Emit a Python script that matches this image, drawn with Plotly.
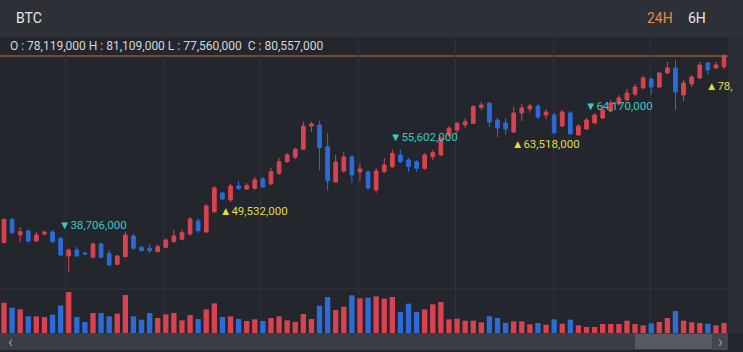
import plotly.graph_objects as go

# ---------------- data (prices in million KRW, 24H candles) ----------------
candle_idx = list(range(90))

open_m = [38.13, 43.45, 39.88, 40.79, 38.51, 40.11, 40.56, 39.13, 35.11, 36.47,
          35.79, 34.81, 37.83, 35.72, 33.22, 34.95, 39.65, 37.08, 36.86, 36.08,
          37.08, 38.36, 38.90, 40.11, 43.06, 40.56, 45.17, 49.42, 47.83, 51.01,
          50.33, 50.49, 52.61, 51.47, 53.90, 56.54, 57.54, 59.36, 64.65, 64.88,
          59.95, 51.92, 54.42, 57.61, 54.20, 54.20, 50.11, 54.26, 55.40, 58.06,
          56.92, 56.54, 55.04, 57.67, 58.06, 62.61, 63.74, 64.88, 65.26, 68.90,
          69.81, 66.01, 65.33, 63.29, 67.61, 68.51, 69.20, 67.15, 67.15, 64.65,
          67.61, 62.61, 63.97, 65.33, 66.47, 68.06, 69.65, 70.56, 71.92, 73.29,
          75.33, 73.51, 76.70, 77.83, 71.70, 74.20, 75.56, 78.97, 77.83, 78.119]

high_m = [43.51, 43.74, 41.70, 41.17, 40.63, 40.86, 41.01, 39.49, 36.86, 37.22,
          36.08, 38.13, 38.13, 36.47, 35.33, 40.63, 40.11, 37.38, 37.83, 37.83,
          39.13, 41.01, 41.01, 43.97, 43.74, 46.92, 51.01, 49.65, 51.47, 52.15,
          51.70, 53.06, 53.06, 55.11, 57.38, 58.51, 59.72, 65.63, 65.63, 65.86,
          63.06, 58.06, 58.74, 58.06, 56.24, 54.65, 55.11, 57.38, 59.36, 59.20,
          57.38, 56.92, 58.45, 59.20, 62.38, 64.65, 65.63, 66.40, 69.42, 70.17,
          70.11, 66.47, 66.47, 68.97, 69.65, 69.65, 69.65, 68.51, 67.61, 68.29,
          68.06, 65.11, 66.47, 67.61, 69.42, 70.56, 71.70, 73.06, 74.20, 76.01,
          75.56, 76.99, 79.20, 79.65, 75.11, 76.24, 79.20, 79.20, 79.20, 81.109]

low_m = [38.06, 40.11, 38.29, 38.13, 38.36, 39.72, 38.13, 35.11, 31.54, 34.88,
         35.45, 34.58, 34.58, 32.83, 33.06, 34.81, 36.47, 36.13, 35.72, 35.90,
         36.86, 38.13, 38.74, 39.65, 40.33, 40.33, 44.88, 47.83, 47.38, 50.11,
         50.11, 50.11, 50.56, 51.24, 53.51, 56.24, 57.15, 59.20, 63.29, 54.65,
         49.95, 51.70, 53.97, 51.70, 52.15, 50.11, 49.42, 53.97, 55.04, 56.17,
         54.26, 54.26, 54.65, 56.92, 57.83, 62.22, 62.83, 64.13, 65.11, 68.29,
         64.42, 62.15, 62.61, 63.06, 65.79, 67.70, 66.24, 66.24, 62.95, 64.42,
         62.72, 62.38, 63.74, 65.22, 66.24, 67.83, 69.42, 70.33, 71.47, 73.06,
         71.70, 73.29, 76.47, 68.29, 70.33, 73.51, 75.33, 76.24, 77.61, 77.56]

close_m = [43.45, 40.40, 40.63, 38.51, 39.88, 40.56, 38.36, 35.33, 36.47, 35.11,
           35.56, 37.83, 34.81, 33.06, 35.11, 39.88, 36.86, 36.31, 36.31, 37.22,
           38.74, 39.65, 40.40, 43.51, 40.86, 46.47, 50.56, 48.06, 51.01, 50.45,
           51.13, 52.38, 50.79, 54.26, 56.54, 58.06, 59.36, 64.65, 65.11, 59.72,
           52.22, 56.47, 57.61, 53.51, 54.88, 50.56, 54.42, 55.79, 58.45, 56.54,
           55.40, 55.04, 58.06, 58.58, 61.86, 64.13, 65.26, 65.63, 69.04, 69.42,
           65.56, 64.20, 63.97, 67.61, 68.74, 69.20, 66.70, 67.83, 63.06, 67.83,
           62.83, 64.65, 66.01, 67.15, 68.29, 69.88, 71.01, 72.15, 73.51, 75.56,
           73.51, 76.70, 77.83, 72.38, 74.42, 75.79, 78.51, 77.38, 78.51, 80.557]

volume = [91, 76, 71, 50, 50, 48, 55, 83, 123, 48,
          33, 60, 60, 50, 58, 114, 50, 40, 60, 45,
          56, 60, 38, 54, 42, 71, 89, 48, 50, 42,
          36, 41, 36, 45, 50, 38, 33, 57, 42, 82,
          108, 69, 79, 113, 104, 106, 110, 103, 108, 63,
          88, 63, 71, 86, 93, 41, 43, 37, 37, 32,
          50, 45, 30, 35, 35, 26, 30, 25, 41, 28,
          40, 23, 18, 18, 27, 27, 27, 37, 27, 23,
          29, 33, 45, 66, 37, 32, 30, 28, 23, 30]

# price markers: (candle index, label, side)
mark_idx = [7, 27, 48, 63, 72, 87]
mark_text = ["▼38,706,000", "▲49,532,000", "▼55,602,000", "▲63,518,000", "▼64,170,000", "▲78,"]
mark_side = ["high", "low", "high", "low", "high", "low"]

symbol = "BTC"
intervals = ["24H", "6H"]

# ---------------- style ----------------
W, H = 743, 352
BG = "#23262d"
HEADER_BG = "#2d3037"
STRIP_BG = "#2a2d34"
GRID = "#30333b"
RED = "#d9434f"
BLUE = "#2d6bd7"
CYAN = "#3cc8c4"
YELLOW = "#e2dc3c"
ORANGE = "#c0773e"
TXT = "#d6d6d6"
FONT = "Roboto"

def py(pix):  # pixel row -> paper fraction
    return 1 - pix / H

plot_right = 728 / W
vol_colors = [RED if c >= o else BLUE for o, c in zip(open_m, close_m)]

fig = go.Figure()
fig.add_trace(go.Candlestick(
    x=candle_idx, open=open_m, high=high_m, low=low_m, close=close_m,
    increasing=dict(line=dict(color=RED, width=1), fillcolor=RED),
    decreasing=dict(line=dict(color=BLUE, width=1), fillcolor=BLUE),
    whiskerwidth=0, xaxis="x", yaxis="y", hoverinfo="skip", showlegend=False,
))
fig.add_trace(go.Bar(
    x=candle_idx, y=volume, marker=dict(color=vol_colors, line=dict(width=0)),
    width=0.66, xaxis="x2", yaxis="y2", hoverinfo="skip", showlegend=False,
))

xr = [-0.494, 89.49]
grid_x = [7.63 + 12.047 * k for k in range(7)]
fig.update_layout(
    width=W, height=H, margin=dict(l=0, r=0, t=0, b=0),
    paper_bgcolor=BG, plot_bgcolor=BG, boxgap=0.35,
    font=dict(family=FONT, color=TXT),
    xaxis=dict(domain=[0, plot_right], range=xr, rangeslider=dict(visible=False),
               showticklabels=False, tickvals=grid_x, showgrid=True, gridcolor=GRID,
               gridwidth=1, zeroline=False, ticks=""),
    yaxis=dict(domain=[py(289), py(37)], range=[27.60, 84.875], showgrid=False,
               showticklabels=False, zeroline=False),
    xaxis2=dict(domain=[0, plot_right], range=xr, anchor="y2", matches="x",
                showticklabels=False, tickvals=grid_x, showgrid=True, gridcolor=GRID,
                zeroline=False, ticks=""),
    yaxis2=dict(domain=[py(333), py(289)], range=[0, 132], showgrid=False,
                showticklabels=False, zeroline=False),
)

shapes = [
    # header band
    dict(type="rect", xref="paper", yref="paper", x0=0, x1=1, y0=py(37), y1=1,
         fillcolor=HEADER_BG, line=dict(width=0), layer="below"),
    # right price strip
    dict(type="rect", xref="paper", yref="paper", x0=plot_right, x1=1, y0=py(333), y1=py(37),
         fillcolor=STRIP_BG, line=dict(width=0), layer="below"),
    # separator between price and volume panes
    dict(type="line", xref="paper", yref="paper", x0=0, x1=plot_right, y0=py(289), y1=py(289),
         line=dict(color=GRID, width=1), layer="below"),
    # current price line
    dict(type="line", xref="paper", yref="y", x0=0, x1=plot_right, y0=close_m[-1], y1=close_m[-1],
         line=dict(color=ORANGE, width=1), layer="below"),
    # scrollbar track
    dict(type="rect", xref="paper", yref="paper", x0=0, x1=plot_right, y0=py(350), y1=py(333),
         fillcolor="#3a3d43", line=dict(width=0), layer="above"),
    dict(type="rect", xref="paper", yref="paper", x0=635 / W, x1=712 / W, y0=py(349), y1=py(334),
         fillcolor="#56595f", line=dict(width=0), layer="above"),
    dict(type="rect", xref="paper", yref="paper", x0=712 / W, x1=plot_right, y0=py(350), y1=py(333),
         fillcolor="#44474d", line=dict(width=0), layer="above"),
]
fig.update_layout(shapes=shapes)

ann = []
# header
ann.append(dict(text=symbol, x=14 / W, y=py(18), xref="paper", yref="paper", xanchor="left",
                yanchor="middle", showarrow=False, font=dict(size=14, color="#e6e6e6", family=FONT)))
ann.append(dict(text=intervals[0], x=645 / W, y=py(18), xref="paper", yref="paper", xanchor="left",
                yanchor="middle", showarrow=False, font=dict(size=14, color="#e58a42", family=FONT)))
ann.append(dict(text=intervals[1], x=686 / W, y=py(18), xref="paper", yref="paper", xanchor="left",
                yanchor="middle", showarrow=False, font=dict(size=14, color="#e6e6e6", family=FONT)))
# OHLC of last candle
def krw(v):
    return f"{round(v * 1e6):,}"
ohlc = (f"O : {krw(open_m[-1])} H : {krw(high_m[-1])} L : {krw(low_m[-1])}  "
        f"C : {krw(close_m[-1])}")
ann.append(dict(text=ohlc, x=8 / W, y=py(46), xref="paper", yref="paper", xanchor="left",
                yanchor="middle", showarrow=False, font=dict(size=12, color=TXT, family=FONT)))
# price markers
for i, t, s in zip(mark_idx, mark_text, mark_side):
    yv = high_m[i] if s == "high" else low_m[i]
    ann.append(dict(text=t, x=i, y=yv, xref="x", yref="y", xanchor="left", yanchor="middle",
                    xshift=-4, yshift=12 if s == "high" else -11, showarrow=False,
                    font=dict(size=11.5, color=CYAN if s == "high" else YELLOW, family=FONT)))
# scrollbar arrows
ann.append(dict(text="‹", x=10 / W, y=py(341), xref="paper", yref="paper", xanchor="center",
                yanchor="middle", showarrow=False, font=dict(size=16, color="#9a9da3")))
ann.append(dict(text="›", x=720 / W, y=py(341), xref="paper", yref="paper", xanchor="center",
                yanchor="middle", showarrow=False, font=dict(size=16, color="#9a9da3")))
fig.update_layout(annotations=ann)

fig.write_html("out.html")
